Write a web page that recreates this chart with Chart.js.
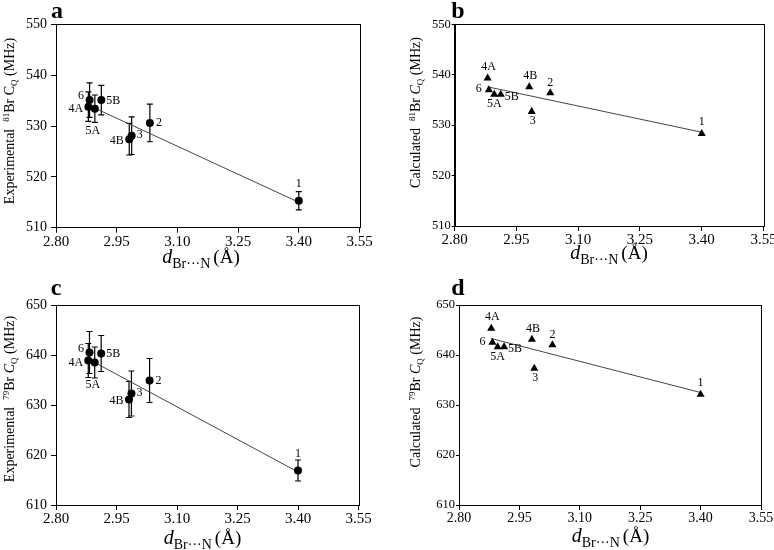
<!DOCTYPE html>
<html>
<head>
<meta charset="utf-8">
<script src="https://cdn.jsdelivr.net/npm/chart.js@4.4.0/dist/chart.umd.min.js"></script>
<style>
html, body { margin: 0; padding: 0; background: #fff; }
#wrap { position: relative; width: 774px; height: 550px; overflow: hidden; }
.panel { position: absolute; width: 387px; height: 275px; }
</style>
</head>
<body>
<div id="wrap">
  <div class="panel" style="left:0;top:0"><canvas id="chartA" width="387" height="275"></canvas></div>
  <div class="panel" style="left:387px;top:0"><canvas id="chartB" width="387" height="275"></canvas></div>
  <div class="panel" style="left:0;top:275px"><canvas id="chartC" width="387" height="275"></canvas></div>
  <div class="panel" style="left:387px;top:275px"><canvas id="chartD" width="387" height="275"></canvas></div>
</div>
<script>
// data
const compounds = ['1', '2', '3', '4A', '4B', '5A', '5B', '6'];
const dBrN = [3.400, 3.032, 2.987, 2.880, 2.981, 2.896, 2.912, 2.883];
const expCq81 = [515.3, 530.6, 528.1, 533.8, 527.4, 533.4, 535.1, 535.1];
const expCq81Err = [1.8, 3.7, 3.7, 2.9, 3.1, 2.7, 2.9, 3.4];
const calcCq81 = [528.3, 536.4, 532.7, 539.3, 537.6, 536.1, 536.1, 537.0];
const expCq79 = [616.9, 634.9, 632.3, 638.9, 631.1, 638.5, 640.3, 640.5];
const expCq79Err = [2.1, 4.4, 4.5, 3.4, 3.6, 3.1, 3.6, 4.2];
const calcCq79 = [632.1, 642.0, 637.3, 645.3, 643.1, 641.6, 641.6, 642.5];

// trend line end points
const fitX = [2.880, 3.400];
const fitExp81 = [534.1, 515.0];
const fitCalc81 = [537.6, 528.6];
const fitExp79 = [639.2, 616.6];
const fitCalc79 = [643.3, 632.5];

const xTicks = [2.80, 2.95, 3.10, 3.25, 3.40, 3.55];
const yTicks81 = [510, 520, 530, 540, 550];
const yTicks79 = [610, 620, 630, 640, 650];

// label placement (pixel offsets from the marker)
const labelOffsetsExp = { '1': [0, -17], '2': [9, 0], '3': [8, -0.5], '4A': [-12.5, 2], '4B': [-12.5, 1.5], '5A': [-2, 22], '5B': [12, 0.5], '6': [-8.5, -4] };
const labelOffsetsCalc = { '1': [0, -11.5], '2': [0, -10.5], '3': [1, 9.5], '4A': [1, -11.5], '4B': [1, -10.5], '5A': [0, 9.5], '5B': [11, 2], '6': [-10, -1] };

const SERIF = '"Liberation Serif", "Times New Roman", serif';
Chart.defaults.font.family = SERIF;
Chart.defaults.color = '#000';

function fontOf(p) {
    return (p.italic ? 'italic ' : '') + (p.bold ? 'bold ' : '') + p.s + 'px ' + SERIF;
}

// draws a run of text parts centred on (x, y), optionally rotated
function drawRich(ctx, parts, x, y, rotate) {
    ctx.save();
    ctx.translate(x, y);
    if (rotate) ctx.rotate(-Math.PI / 2);
    let total = 0;
    parts.forEach(p => {
        ctx.font = fontOf(p);
        p.w = ctx.measureText(p.t).width;
        total += p.w + (p.gap || 0);
    });
    let cx = -total / 2;
    ctx.fillStyle = '#000';
    ctx.textBaseline = 'alphabetic';
    ctx.textAlign = 'left';
    parts.forEach(p => {
        ctx.font = fontOf(p);
        ctx.fillText(p.t, cx, p.dy || 0);
        cx += p.w + (p.gap || 0);
    });
    ctx.restore();
}

const panelDeco = {
    id: 'panelDeco',
    beforeDatasetsDraw(chart, args, opts) {
        if (!opts.errors) return;
        const ctx = chart.ctx, xs = chart.scales.x, ys = chart.scales.y;
        const pts = chart.data.datasets[0].data;
        ctx.save();
        ctx.strokeStyle = '#000';
        ctx.lineWidth = 1.2;
        pts.forEach((p, i) => {
            const e = opts.errors[i];
            const px = xs.getPixelForValue(p.x);
            const top = ys.getPixelForValue(p.y + e);
            const bot = ys.getPixelForValue(p.y - e);
            ctx.beginPath();
            ctx.moveTo(px, top); ctx.lineTo(px, bot);
            ctx.moveTo(px - 3, top); ctx.lineTo(px + 3, top);
            ctx.moveTo(px - 3, bot); ctx.lineTo(px + 3, bot);
            ctx.stroke();
        });
        ctx.restore();
    },
    afterDatasetsDraw(chart, args, opts) {
        const ctx = chart.ctx;
        const meta = chart.getDatasetMeta(0);
        ctx.save();
        ctx.fillStyle = '#000';
        ctx.font = opts.labelSize + 'px ' + SERIF;
        ctx.textAlign = 'center';
        ctx.textBaseline = 'middle';
        meta.data.forEach((el, i) => {
            const name = compounds[i];
            const off = opts.offsets[name];
            ctx.fillText(name, el.x + off[0], el.y + off[1]);
        });
        ctx.restore();
    },
    afterDraw(chart, args, opts) {
        const ctx = chart.ctx, a = chart.chartArea;
        ctx.save();
        ctx.strokeStyle = '#000';
        ctx.lineWidth = 1;
        ctx.strokeRect(Math.round(a.left) + 0.5, Math.round(a.top) + 0.5,
            Math.round(a.right - a.left), Math.round(a.bottom - a.top));
        ctx.restore();
        drawRich(ctx, opts.yTitle, opts.yTitlePos[0], opts.yTitlePos[1], true);
        drawRich(ctx, opts.xTitle, opts.xTitlePos[0], opts.xTitlePos[1], false);
        drawRich(ctx, [{ t: opts.letter, s: 24, bold: true }], opts.letterPos[0], opts.letterPos[1], false);
    }
};
Chart.register(panelDeco);

function xTitleParts() {
    return [
        { t: 'd', s: 20, italic: true },
        { t: 'Br\u00B7\u00B7\u00B7N', s: 14, dy: 5, gap: 3 },
        { t: '(\u00C5)', s: 19 }
    ];
}

function yTitleParts(word, iso, size, italicC) {
    return [
        { t: word + '  ', s: size },
        { t: iso, s: 9, dy: -5 },
        { t: 'Br ', s: size },
        { t: 'C', s: size, italic: italicC },
        { t: 'Q', s: 9, dy: 3 },
        { t: ' (MHz)', s: size }
    ];
}

function makePanel(id, cfg) {
    const points = compounds.map((c, i) => ({ x: dBrN[i], y: cfg.values[i] }));
    const fit = fitX.map((x, i) => ({ x: x, y: cfg.fit[i] }));
    new Chart(document.getElementById(id).getContext('2d'), {
        type: 'scatter',
        data: {
            datasets: [{
                data: points,
                pointStyle: cfg.marker,
                pointRadius: cfg.marker === 'triangle' ? 4.7 : 4,
                backgroundColor: '#000',
                borderColor: '#000',
                borderWidth: 0
            }, {
                data: fit,
                showLine: true,
                pointRadius: 0,
                borderColor: '#444',
                borderWidth: 1
            }]
        },
        options: {
            responsive: false,
            animation: false,
            events: [],
            layout: { padding: { left: 0, top: cfg.top, right: cfg.right, bottom: 0 } },
            plugins: {
                legend: { display: false },
                tooltip: { enabled: false },
                panelDeco: {
                    errors: cfg.errors,
                    offsets: cfg.offsets,
                    labelSize: cfg.labelSize,
                    yTitle: cfg.yTitle,
                    yTitlePos: cfg.yTitlePos,
                    xTitle: xTitleParts(),
                    xTitlePos: cfg.xTitlePos,
                    letter: cfg.letter,
                    letterPos: cfg.letterPos
                }
            },
            scales: {
                x: {
                    type: 'linear', min: 2.80, max: 3.55,
                    afterBuildTicks: s => { s.ticks = xTicks.map(v => ({ value: v })); },
                    afterFit: s => { s.height = cfg.xAxisH; s.paddingLeft = 0; s.paddingRight = 0; },
                    ticks: { font: { size: cfg.xTickSize }, padding: 0, maxRotation: 0, autoSkip: false, callback: v => Number(v).toFixed(2) },
                    grid: { drawOnChartArea: false, color: '#000', tickLength: 5 },
                    border: { color: '#000' }
                },
                y: {
                    type: 'linear', min: cfg.yTicks[0], max: cfg.yTicks[cfg.yTicks.length - 1],
                    afterBuildTicks: s => { s.ticks = cfg.yTicks.map(v => ({ value: v })); },
                    afterFit: s => { s.width = cfg.yAxisW; s.paddingTop = 0; s.paddingBottom = 0; },
                    ticks: { font: { size: cfg.yTickSize }, padding: cfg.yTickPad, autoSkip: false, callback: v => String(v) },
                    grid: { drawOnChartArea: false, color: '#000', tickLength: cfg.yTickLen },
                    border: { color: '#000' }
                }
            }
        }
    });
}

makePanel('chartA', {
    values: expCq81, errors: expCq81Err, fit: fitExp81, marker: 'circle',
    offsets: labelOffsetsExp, labelSize: 12, yTicks: yTicks81,
    top: 24.3, right: 27.5, xAxisH: 47.3, yAxisW: 56,
    xTickSize: 15, yTickSize: 14, yTickPad: 4, yTickLen: 5,
    yTitle: yTitleParts('Experimental', '81', 14, false), yTitlePos: [13.5, 121],
    xTitlePos: [201, 263], letter: 'a', letterPos: [57, 18]
});

makePanel('chartB', {
    values: calcCq81, errors: null, fit: fitCalc81, marker: 'triangle',
    offsets: labelOffsetsCalc, labelSize: 12, yTicks: yTicks81,
    top: 24.3, right: 10.5, xAxisH: 49, yAxisW: 67.7,
    xTickSize: 15, yTickSize: 12.5, yTickPad: 1, yTickLen: 3,
    yTitle: yTitleParts('Calculated', '81', 14, true), yTitlePos: [33, 112.5],
    xTitlePos: [222, 259], letter: 'b', letterPos: [71, 18]
});

makePanel('chartC', {
    values: expCq79, errors: expCq79Err, fit: fitExp79, marker: 'circle',
    offsets: labelOffsetsExp, labelSize: 12, yTicks: yTicks79,
    top: 30, right: 28.5, xAxisH: 45, yAxisW: 56,
    xTickSize: 15, yTickSize: 14, yTickPad: 4, yTickLen: 5,
    yTitle: yTitleParts('Experimental', '79', 14, true), yTitlePos: [13.5, 124],
    xTitlePos: [202.5, 269], letter: 'c', letterPos: [56, 20]
});

makePanel('chartD', {
    values: calcCq79, errors: null, fit: fitCalc79, marker: 'triangle',
    offsets: labelOffsetsCalc, labelSize: 12, yTicks: yTicks79,
    top: 30, right: 13, xAxisH: 45, yAxisW: 72,
    xTickSize: 14, yTickSize: 12.5, yTickPad: 1, yTickLen: 3,
    yTitle: yTitleParts('Calculated', '79', 14, true), yTitlePos: [33, 117],
    xTitlePos: [223.5, 267], letter: 'd', letterPos: [71, 20]
});
</script>
</body>
</html>
